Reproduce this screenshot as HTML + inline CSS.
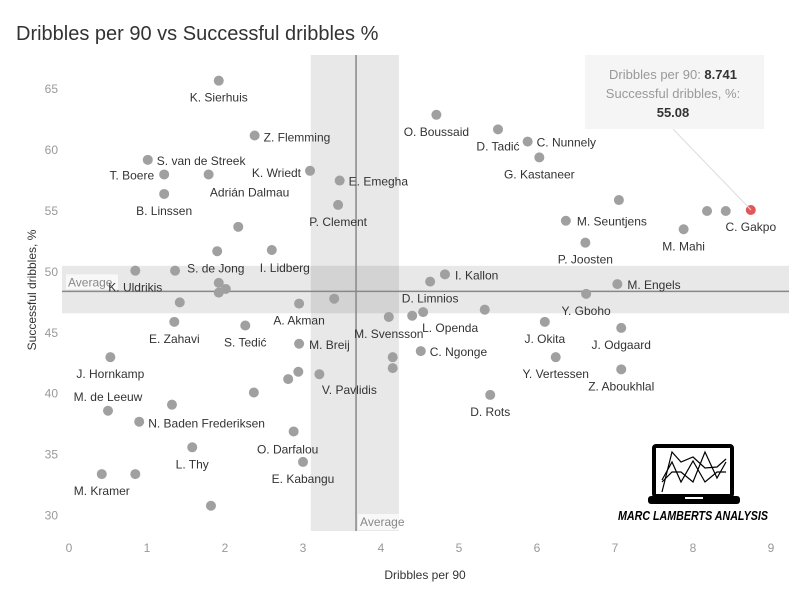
<!DOCTYPE html>
<html><head><meta charset="utf-8"><style>
body{margin:0;background:#fff;}
svg text{font-family:"Liberation Sans",sans-serif;}
</style></head><body>
<svg id="chart" width="799" height="599" viewBox="0 0 799 599" xmlns="http://www.w3.org/2000/svg">
<text x="16" y="40" font-size="20" fill="#333">Dribbles per 90 vs Successful dribbles %</text>
<g id="bands"></g><g id="axes"></g><g id="pts"></g><g id="labels"></g>
<g>
<line x1="673" y1="129" x2="751" y2="210" stroke="#ddd" stroke-width="1"/>
<rect x="585" y="55" width="179" height="74" fill="#f5f5f5"/>
<text x="673" y="79" font-size="13" fill="#999" text-anchor="middle">Dribbles per 90: <tspan fill="#333" font-weight="bold">8.741</tspan></text>
<text x="673" y="98" font-size="13" fill="#999" text-anchor="middle">Successful dribbles, %:</text>
<text x="673" y="117" font-size="13" fill="#333" font-weight="bold" text-anchor="middle">55.08</text>
</g>
<g>
<rect x="654" y="446" width="78" height="50" fill="none" stroke="#000" stroke-width="4" rx="2"/>
<rect x="648" y="496" width="92" height="8" fill="#000" rx="3"/>
<rect x="685" y="497" width="18" height="2" fill="#fff"/>
<polyline points="662,492 672,452 681,462 693,457 705,468 717,467 726,459" fill="none" stroke="#000" stroke-width="1.2"/>
<polyline points="662,482 672,472 681,472 693,482 705,452 717,478 726,462" fill="none" stroke="#000" stroke-width="1.2"/>
<polyline points="662,480 672,462 681,482 693,461 705,482 717,472 726,472" fill="none" stroke="#000" stroke-width="1.2"/>
<text x="693" y="520" font-size="13" font-weight="bold" font-style="italic" text-anchor="middle" fill="#000" textLength="150" lengthAdjust="spacingAndGlyphs">MARC LAMBERTS ANALYSIS</text>
</g>
</svg>
<script>
const xTicks=[0,1,2,3,4,5,6,7,8,9];
const yTicks=[30,35,40,45,50,55,60,65];
const avgX=3.68, avgY=48.4;
const bandX=[3.10,4.23], bandY=[46.6,50.5];
const xVals=[1.92,2.38,1.01,1.22,1.79,3.09,3.47,1.22,3.45,2.17,1.90,2.60,0.85,1.36,1.92,2.01,1.92,1.42,2.95,3.40,1.35,2.26,2.95,0.53,2.94,3.21,2.81,2.37,0.50,1.32,0.90,2.88,1.58,3.00,0.42,0.85,1.82,4.71,5.50,5.88,6.03,7.05,6.37,7.88,8.18,8.42,8.741,6.62,4.82,4.63,7.03,6.63,5.33,4.54,4.40,4.10,6.10,7.08,4.51,4.15,4.15,6.24,7.08,5.40];
const yVals=[65.7,61.2,59.2,58.0,58.0,58.3,57.5,56.4,55.5,53.7,51.7,51.8,50.1,50.1,49.1,48.6,48.3,47.5,47.4,47.8,45.9,45.6,44.1,43.0,41.8,41.6,41.2,40.1,38.6,39.1,37.7,36.9,35.6,34.4,33.4,33.4,30.8,62.9,61.7,60.7,59.4,55.9,54.2,53.5,55.0,55.0,55.08,52.4,49.8,49.2,49.0,48.2,46.9,46.7,46.4,46.3,45.9,45.4,43.5,43.0,42.1,43.0,42.0,39.9];
const names=["K. Sierhuis","Z. Flemming","S. van de Streek","T. Boere","Adrián Dalmau","K. Wriedt","E. Emegha","B. Linssen","P. Clement","","","I. Lidberg","K. Uldrikis","S. de Jong","","","","","A. Akman","","E. Zahavi","S. Tedić","M. Breij","J. Hornkamp","","V. Pavlidis","","","M. de Leeuw","","N. Baden Frederiksen","O. Darfalou","L. Thy","E. Kabangu","M. Kramer","","","O. Boussaid","D. Tadić","C. Nunnely","G. Kastaneer","","M. Seuntjens","M. Mahi","","","C. Gakpo","P. Joosten","I. Kallon","D. Limnios","M. Engels","Y. Gboho","","L. Openda","","M. Svensson","J. Okita","J. Odgaard","C. Ngonge","","","Y. Vertessen","Z. Aboukhlal","D. Rots"];
// label placement offsets (style): [anchor, dx, dy]
const lo={"Z. Flemming":["start",9,2],"S. van de Streek":["start",9,1],"T. Boere":["end",-10,1],"Adrián Dalmau":["middle",41,18],"K. Wriedt":["end",-9,2],"E. Emegha":["start",9,1],"S. de Jong":["start",12,-2],"I. Lidberg":["middle",13,18],"M. Breij":["start",10,1],"V. Pavlidis":["middle",30,16],"M. de Leeuw":["middle",0,-14],"N. Baden Frederiksen":["start",9,2],"O. Darfalou":["middle",-6,18],"C. Nunnely":["start",9,1],"M. Seuntjens":["start",11,1],"I. Kallon":["start",10,1],"M. Engels":["start",10,1],"L. Openda":["middle",27,16],"C. Ngonge":["start",9,1]};
const X=v=>69+v*78, Y=v=>211-(v-55)*12.18;
const NS="http://www.w3.org/2000/svg";
function mk(tag,attrs,parent,txt){const e=document.createElementNS(NS,tag);for(const k in attrs)e.setAttribute(k,attrs[k]);if(txt!==undefined)e.textContent=txt;parent.appendChild(e);return e;}
const bands=document.getElementById('bands'),axes=document.getElementById('axes'),pts=document.getElementById('pts'),lab=document.getElementById('labels');
const L=62,R=789,T=55,B=531;
let e=mk('rect',{x:L,y:Y(bandY[1]),width:R-L,height:Y(bandY[0])-Y(bandY[1]),fill:'#000','fill-opacity':0.09},bands);


e=mk('rect',{x:X(bandX[0]),y:T,width:X(bandX[1])-X(bandX[0]),height:B-T,fill:'#000','fill-opacity':0.09},bands);


e=mk('line',{x1:L,x2:R,y1:Y(avgY),y2:Y(avgY),stroke:'#888','stroke-width':1.5},bands);


e=mk('line',{x1:X(avgX),x2:X(avgX),y1:T,y2:B,stroke:'#888','stroke-width':1.5},bands);


mk('rect',{x:66,y:Y(avgY)-17,width:52,height:15,fill:'#fff','fill-opacity':0.7},bands);
e=mk('text',{x:68,y:Y(avgY)-5,'font-size':12,fill:'#888'},bands,'Average');


mk('rect',{x:X(avgX)+2,y:B-17,width:52,height:16,fill:'#fff','fill-opacity':0.7},bands);
e=mk('text',{x:X(avgX)+4,y:B-5,'font-size':12,fill:'#888'},bands,'Average');


xTicks.forEach(t=>{const el=mk('text',{x:X(t),y:552,'font-size':12,fill:'#999','text-anchor':'middle'},axes,String(t));

});
yTicks.forEach(t=>{const el=mk('text',{x:58,y:Y(t)+4,'font-size':12,fill:'#999','text-anchor':'end'},axes,String(t));

});
e=mk('text',{x:425,y:579,'font-size':12,fill:'#333','text-anchor':'middle'},axes,'Dribbles per 90');


e=mk('text',{x:0,y:0,'font-size':12,fill:'#333','text-anchor':'middle',transform:'translate(36,290) rotate(-90)'},axes,'Successful dribbles, %');


xVals.forEach((xv,i)=>{
  const hi=names[i]==='C. Gakpo';
  const c=mk('circle',{cx:X(xv),cy:Y(yVals[i]),r:5,fill:hi?'#e15759':'#a0a0a0'},pts);
  
  
  const n=names[i]; if(!n)return;
  const o=lo[n]||['middle',0,17];
  const t=mk('text',{x:X(xv)+o[1],y:Y(yVals[i])+o[2]+4,'font-size':12,fill:'#333','text-anchor':o[0]},lab,n);
  
  
});
</script>
</body></html>
